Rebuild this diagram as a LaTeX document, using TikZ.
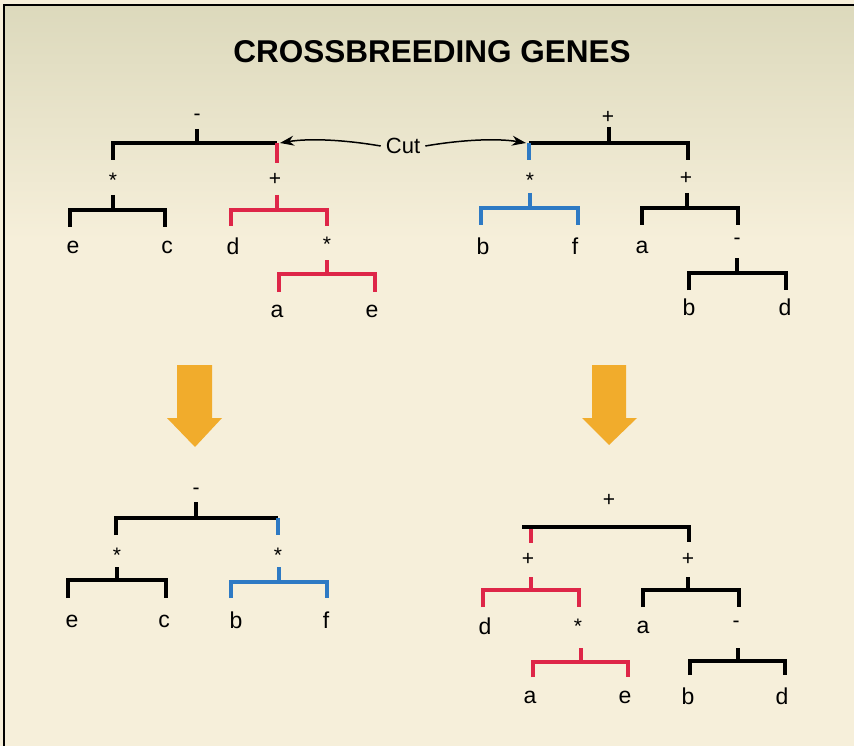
\documentclass[tikz,border=0pt]{standalone}
\usepackage{fontspec}
\setmainfont{Liberation Sans}
\usetikzlibrary{arrows.meta}
\definecolor{paper}{RGB}{246,239,218}
\definecolor{papertop}{RGB}{220,217,188}
\definecolor{crim}{RGB}{222,38,72}
\definecolor{blu}{RGB}{46,122,196}
\definecolor{orng}{RGB}{241,172,44}
\tikzset{
  blk/.style={line width=3.2pt, black},
  redl/.style={line width=3.2pt, crim},
  blul/.style={line width=3.2pt, blu},
  lbl/.style={font=\fontsize{23}{23}\selectfont, inner sep=0pt},
  opr/.style={font=\fontsize{21}{21}\selectfont, inner sep=0pt},
  bigarrow/.style={fill=orng, draw=none},
}
\begin{document}
\begin{tikzpicture}[x=1pt,y=-1pt]
\useasboundingbox (0,0) rectangle (854,746);
% background
\fill[paper] (0,0) rectangle (854,746);
\shade[top color=papertop, bottom color=paper] (4,5) rectangle (854,240);
\draw[line width=1.6pt] (4,746) -- (4,5) -- (854,5);

% title
\node[font=\fontsize{31.5}{31.5}\selectfont\bfseries, inner sep=0pt] (title) at (432,52) {CROSSBREEDING GENES};

% ---------------- Tree 1 (top left) ----------------
\node[opr] (r1) at (197,117) {-};
\node[opr] (s1) at (113,180) {*};
\node[opr] (p1) at (275,179) {+};
\node[lbl] (e1) at (73,247) {e};
\node[lbl] (c1) at (167,247) {c};
\node[lbl] (d1) at (233,246) {d};
\node[opr] (s2) at (327,244) {*};
\node[lbl] (a1) at (277,311) {a};
\node[lbl] (e2) at (372,311) {e};
\coordinate (cutL) at (280,143);

\draw[blk] (197,129) -- (197,143);
\draw[blk] (113,160) -- (113,143) -- (277,143);
\draw[redl] (277,143) -- (277,163);
\draw[blk] (113,195) -- (113,210);
\draw[blk] (70,227) -- (70,210) -- (165,210) -- (165,227);
\draw[redl] (277,195) -- (277,210);
\draw[redl] (231,226) -- (231,210) -- (327,210) -- (327,226);
\draw[redl] (327,260) -- (327,274);
\draw[redl] (279,292) -- (279,274) -- (375,274) -- (375,292);

% ---------------- Tree 2 (top right) ----------------
\node[opr] (r2) at (608,117) {+};
\node[opr] (s3) at (530,180) {*};
\node[opr] (p2) at (686,178) {+};
\node[lbl] (b1) at (483,246) {b};
\node[lbl] (f1) at (575,246) {f};
\node[lbl] (a2) at (642,247) {a};
\node[opr] (m1) at (737,241) {-};
\node[lbl] (b2) at (689,307) {b};
\node[lbl] (d2) at (785,307) {d};
\coordinate (cutR) at (526,143);

\draw[blk] (609,127) -- (609,143);
\draw[blk] (529,143) -- (688,143) -- (688,160);
\draw[blul] (529,143) -- (529,160);
\draw[blul] (530,193) -- (530,208);
\draw[blul] (481,225) -- (481,208) -- (578,208) -- (578,225);
\draw[blk] (687,193) -- (687,208);
\draw[blk] (642,225) -- (642,208) -- (738,208) -- (738,225);
\draw[blk] (737,258) -- (737,273);
\draw[blk] (689,290) -- (689,273) -- (786,273) -- (786,290);

% Cut label and arrows
\node[lbl, font=\fontsize{22}{22}\selectfont] (cut) at (403,146) {Cut};
\draw[line width=1.5pt, -{Stealth[length=14pt,width=10pt]}] ([xshift=-5pt]cut.west) .. controls +(-35,-6) and +(30,-5) .. (cutL);
\draw[line width=1.5pt, -{Stealth[length=14pt,width=10pt]}] ([xshift=5pt]cut.east) .. controls +(35,-6) and +(-30,-5) .. (cutR);

% ---------------- Orange arrows ----------------
\fill[bigarrow] (177,365) -- (212,365) -- (212,418) -- (222,418) -- (195,447) -- (167,418) -- (177,418) -- cycle;
\fill[bigarrow] (592,365) -- (626,365) -- (626,418) -- (637,418) -- (609,445) -- (582,418) -- (592,418) -- cycle;

% ---------------- Tree 3 (bottom left) ----------------
\node[opr] (r3) at (196,491) {-};
\node[opr] (s4) at (117,555) {*};
\node[opr] (s5) at (278,555) {*};
\node[lbl] (e3) at (72,621) {e};
\node[lbl] (c3) at (164,621) {c};
\node[lbl] (b3) at (236,620) {b};
\node[lbl] (f3) at (326,620) {f};

\draw[blk] (196,502) -- (196,518);
\draw[blk] (116,535) -- (116,518) -- (278,518);
\draw[blul] (278,518) -- (278,535);
\draw[blk] (117,567) -- (117,580);
\draw[blk] (68,598) -- (68,580) -- (166,580) -- (166,598);
\draw[blul] (279,567) -- (279,582);
\draw[blul] (231,598) -- (231,582) -- (327,582) -- (327,598);

% ---------------- Tree 4 (bottom right) ----------------
\node[opr] (r4) at (609,500) {+};
\node[opr] (p3) at (528,559) {+};
\node[opr] (p4) at (688,559) {+};
\node[lbl] (d4) at (485,626) {d};
\node[opr] (s6) at (578,626) {*};
\node[lbl] (a4) at (643,627) {a};
\node[opr] (m2) at (736,624) {-};
\node[lbl] (a5) at (530,697) {a};
\node[lbl] (e5) at (625,697) {e};
\node[lbl] (b5) at (688,696) {b};
\node[lbl] (d5) at (782,696) {d};

\draw[blk] (522,527) -- (689,527) -- (689,542);
\draw[redl] (531,529) -- (531,543);
\draw[redl] (531,577) -- (531,590);
\draw[redl] (483,607) -- (483,590) -- (579,590) -- (579,607);
\draw[blk] (688,577) -- (688,590);
\draw[blk] (643,607) -- (643,590) -- (739,590) -- (739,607);
\draw[redl] (581,648) -- (581,662);
\draw[redl] (533,677) -- (533,662) -- (628,662) -- (628,677);
\draw[blk] (738,648) -- (738,661);
\draw[blk] (690,675) -- (690,661) -- (785,661) -- (785,675);
\end{tikzpicture}
\end{document}
